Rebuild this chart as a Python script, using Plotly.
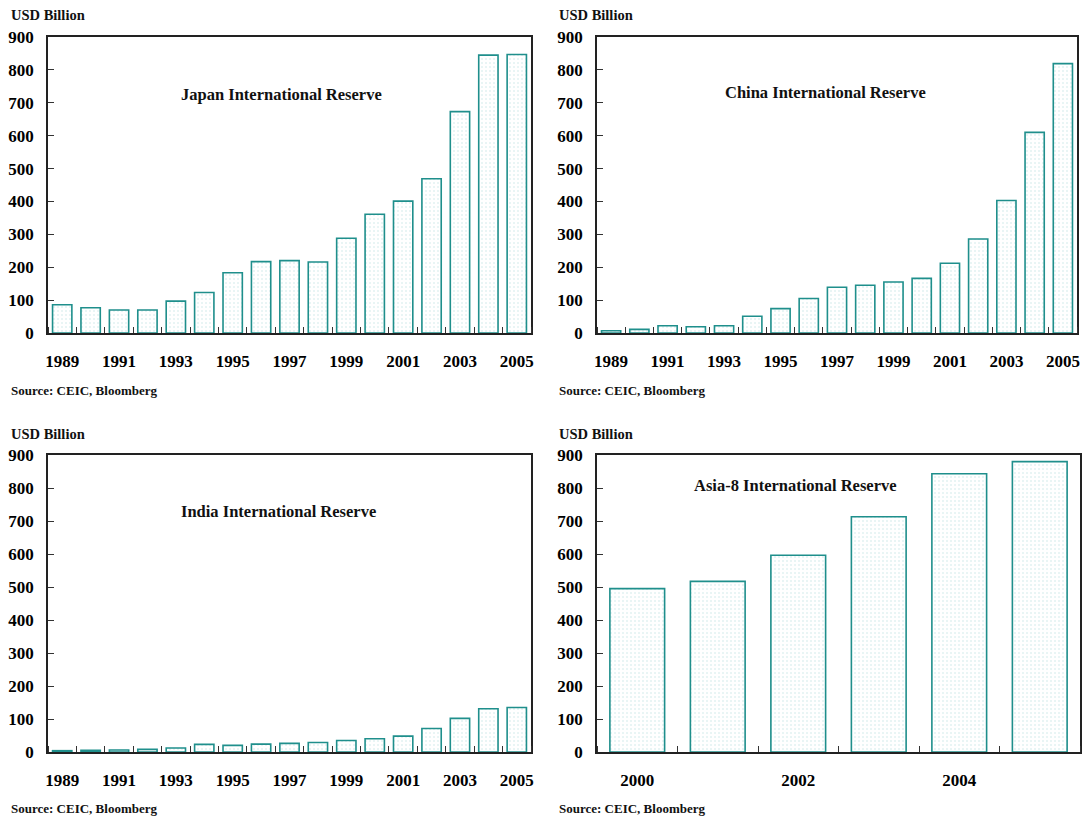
import plotly.graph_objects as go

# ---- data (USD billion) ----
years = list(range(1989, 2006))
japan = [86, 77, 70, 70, 97, 123, 183, 217, 220, 216, 288, 361, 401, 469, 673, 845, 847]
china = [7, 11, 22, 19, 22, 51, 74, 105, 139, 145, 155, 166, 212, 286, 403, 610, 819]
india = [4, 5, 6, 8, 12, 23, 20, 24, 26, 29, 35, 40, 48, 71, 102, 131, 135]
asia8_years = [2000, 2001, 2002, 2003, 2004, 2005]
asia8 = [495, 517, 596, 713, 843, 880]

titles = ["Japan International Reserve", "China International Reserve",
          "India International Reserve", "Asia-8 International Reserve"]
y_ticks = list(range(0, 1000, 100))
long_ticks = list(range(1989, 2006, 2))
short_ticks = [2000, 2002, 2004]
unit_label = "USD Billion"
source_label = "Source: CEIC, Bloomberg"

W, H = 1084, 817
FONT = "Liberation Serif, Times New Roman, serif"
TEAL = "#1f8f8c"
DOT = "#c4e6e6"


def px_x(v):
    return v / W


def px_y(v):
    return 1 - v / H


# pixel boxes of the four plot areas: (left, right, top, bottom)
boxes = [(48, 531, 37, 333), (597, 1077, 37, 333),
         (48, 531, 455, 752), (597, 1080, 455, 752)]
series = [(years, japan), (years, china), (years, india), (asia8_years, asia8)]
title_pos = [(281, 95), (825, 93), (278, 512), (795, 485)]

fig = go.Figure()

for i, ((xs, ys), box) in enumerate(zip(series, boxes)):
    n = i + 1
    xa = "x" if n == 1 else f"x{n}"
    ya = "y" if n == 1 else f"y{n}"
    fig.add_trace(go.Bar(
        x=xs, y=ys, xaxis=xa, yaxis=ya, width=0.68,
        marker=dict(color="white",
                    line=dict(color=TEAL, width=1.6),
                    pattern=dict(shape=".", fgcolor=DOT, bgcolor="white",
                                 size=4, solidity=0.2)),
        showlegend=False, hoverinfo="x+y",
    ))
    l, r, t, b = box
    lo, hi = xs[0] - 0.5, xs[-1] + 0.5
    labels = long_ticks if len(xs) > 6 else short_ticks
    xkey = "xaxis" if n == 1 else f"xaxis{n}"
    ykey = "yaxis" if n == 1 else f"yaxis{n}"
    fig.update_layout(**{
        xkey: dict(
            domain=[px_x(l), px_x(r)], anchor=ya, range=[lo, hi],
            automargin=False,
            tickmode="array", tickvals=labels, ticktext=[str(v) for v in labels],
            ticks="", showgrid=False, zeroline=False,
            showline=True, linecolor="#222", linewidth=1.6, mirror=True,
            minor=dict(ticks="inside", tick0=lo, dtick=1, ticklen=6,
                       tickcolor="#333", tickwidth=1.2, showgrid=False),
            tickfont=dict(family=FONT, size=17, color="black", weight="bold"),
            ticklabelstandoff=12,
        ),
        ykey: dict(
            domain=[px_y(b), px_y(t)], anchor=xa, range=[0, 900],
            automargin=False,
            tickmode="array", tickvals=y_ticks,
            ticks="inside", ticklen=6, tickcolor="#333", tickwidth=1.2,
            showgrid=False, zeroline=False,
            showline=True, linecolor="#222", linewidth=1.6, mirror=True,
            tickfont=dict(family=FONT, size=17, color="black", weight="bold"),
            ticklabelstandoff=9,
        ),
    })
    # chart title inside the plot area
    tx, ty = title_pos[i]
    fig.add_annotation(x=px_x(tx), y=px_y(ty), xref="paper", yref="paper",
                       text=titles[i], showarrow=False,
                       xanchor="center", yanchor="middle",
                       font=dict(family=FONT, size=16.5, color="#111", weight="bold"))
    # unit label above the axis and source note below
    ux = 9 if l < 100 else 557
    uy = 15 if t < 100 else 434
    fig.add_annotation(x=px_x(ux), y=px_y(uy), xref="paper", yref="paper",
                       text=unit_label, showarrow=False,
                       xanchor="left", yanchor="middle",
                       font=dict(family=FONT, size=14.5, color="#111", weight="bold"))
    sy = 390 if t < 100 else 808
    fig.add_annotation(x=px_x(ux), y=px_y(sy), xref="paper", yref="paper",
                       text=source_label, showarrow=False,
                       xanchor="left", yanchor="middle",
                       font=dict(family=FONT, size=13, color="#111", weight="bold"))

fig.update_layout(
    width=W, height=H,
    margin=dict(l=0, r=0, t=0, b=0, autoexpand=False),
    paper_bgcolor="white", plot_bgcolor="white",
    bargap=0.3,
)

fig.write_html("out.html")
